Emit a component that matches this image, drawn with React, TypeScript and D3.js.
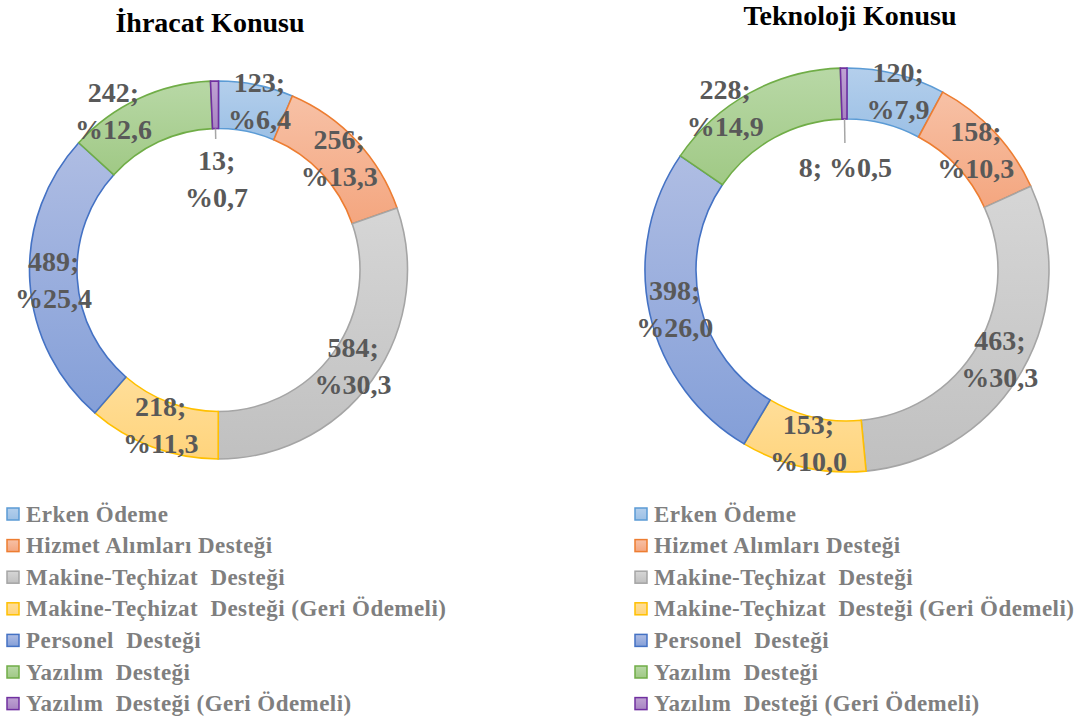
import React from 'react';
import * as d3 from 'd3';

// categories and values
const categories = [
  'Erken Ödeme',
  'Hizmet Alımları Desteği',
  'Makine-Teçhizat  Desteği',
  'Makine-Teçhizat  Desteği (Geri Ödemeli)',
  'Personel  Desteği',
  'Yazılım  Desteği',
  'Yazılım  Desteği (Geri Ödemeli)',
];
const ihracatValues = [123, 256, 584, 218, 489, 242, 13];
const teknolojiValues = [120, 158, 463, 153, 398, 228, 8];

const strokeColors = ['#5b9bd5', '#ed7d31', '#a5a5a5', '#ffc000', '#4472c4', '#70ad47', '#7030a0'];
const fillTop = ['#b4cfec', '#f7c1a6', '#d6d6d6', '#ffde99', '#afbde3', '#b8d8a6', '#bfa3d3'];
const fillBottom = ['#9cc0e5', '#f4a67f', '#c0c0c0', '#ffd47c', '#849fd8', '#a0c985', '#a884c2'];

const labelColor = '#595959';
const legendColor = '#7f7f7f';
const serif = '"Liberation Serif", "DejaVu Serif", serif';

interface ChartConf {
  id: string;
  title: string;
  values: number[];
  cx: number;
  cy: number;
  inner: number;
  outer: number;
  titleX: number;
  titleY: number;
  shifts: Record<number, [number, number]>;
  smallR: number;
  smallOneLine: boolean;
  leaderEnd: number;
  legendX: number;
}

const charts: ChartConf[] = [
  {
    id: 'ihr',
    title: 'İhracat Konusu',
    values: ihracatValues,
    cx: 218.5,
    cy: 270,
    inner: 141.5,
    outer: 189,
    titleX: 210,
    titleY: 32,
    shifts: { 0: [8, -8], 5: [-35, -10] },
    smallR: 92,
    smallOneLine: false,
    leaderEnd: 131,
    legendX: 7,
  },
  {
    id: 'tek',
    title: 'Teknoloji Konusu',
    values: teknolojiValues,
    cx: 847,
    cy: 270,
    inner: 151,
    outer: 202,
    titleX: 850,
    titleY: 25,
    shifts: { 0: [8, -8], 5: [-37, -8] },
    smallR: 103,
    smallOneLine: true,
    leaderEnd: 127,
    legendX: 635,
  },
];

const fmtPct = (v: number, total: number) => '%' + ((v / total) * 100).toFixed(1).replace('.', ',');

const Donut: React.FC<{ c: ChartConf }> = ({ c }) => {
  const total = d3.sum(c.values);
  const pie = d3.pie<number>().sort(null).value((d) => d);
  const arcs = pie(c.values);
  const arc = d3.arc<d3.PieArcDatum<number>>().innerRadius(c.inner).outerRadius(c.outer);
  const midR = (c.inner + c.outer) / 2;
  const smallIdx = c.values.length - 1;

  return (
    <g>
      <defs>
        {strokeColors.map((_, i) => (
          <linearGradient key={i} id={`${c.id}-g${i}`} x1="0" y1="0" x2="0" y2="1">
            <stop offset="0%" stopColor={fillTop[i]} />
            <stop offset="100%" stopColor={fillBottom[i]} />
          </linearGradient>
        ))}
      </defs>
      <text x={c.titleX} y={c.titleY} textAnchor="middle" fontFamily={serif} fontWeight="bold" fontSize={28} fill="#000">
        {c.title}
      </text>
      <g transform={`translate(${c.cx},${c.cy})`}>
        {arcs.map((a, i) => (
          <path key={i} d={arc(a) as string} fill={`url(#${c.id}-g${i})`} stroke={strokeColors[i]} strokeWidth={1.6} />
        ))}
        {arcs.map((a, i) => {
          const mid = (a.startAngle + a.endAngle) / 2;
          const v = c.values[i];
          const pct = fmtPct(v, total);
          if (i === smallIdx) {
            const x = Math.sin(mid) * c.smallR;
            const y = -Math.cos(mid) * c.smallR;
            return (
              <g key={i}>
                <line
                  x1={Math.sin(mid) * c.inner}
                  y1={-Math.cos(mid) * c.inner}
                  x2={Math.sin(mid) * c.leaderEnd}
                  y2={-Math.cos(mid) * c.leaderEnd}
                  stroke="#a6a6a6"
                  strokeWidth={1.5}
                />
                {c.smallOneLine ? (
                  <text x={x} y={y} textAnchor="middle" dominantBaseline="central" fontFamily={serif} fontWeight="bold" fontSize={28} fill={labelColor}>
                    {`${v}; ${pct}`}
                  </text>
                ) : (
                  <text textAnchor="middle" dominantBaseline="central" fontFamily={serif} fontWeight="bold" fontSize={28} fill={labelColor}>
                    <tspan x={x} y={y - 18.5}>{`${v};`}</tspan>
                    <tspan x={x} y={y + 18.5}>{pct}</tspan>
                  </text>
                )}
              </g>
            );
          }
          const sh = c.shifts[i] || [0, 0];
          const x = Math.sin(mid) * midR + sh[0];
          const y = -Math.cos(mid) * midR + sh[1];
          return (
            <text key={i} textAnchor="middle" dominantBaseline="central" fontFamily={serif} fontWeight="bold" fontSize={28} fill={labelColor}>
              <tspan x={x} y={y - 18.5}>{`${v};`}</tspan>
              <tspan x={x} y={y + 18.5}>{pct}</tspan>
            </text>
          );
        })}
      </g>
      <g>
        {categories.map((name, i) => {
          const y = 514 + i * 31.6;
          return (
            <g key={i}>
              <rect x={c.legendX} y={y - 6} width={12} height={12} fill={`url(#${c.id}-g${i})`} stroke={strokeColors[i]} strokeWidth={1.5} />
              <text
                x={c.legendX + 19}
                y={y}
                dominantBaseline="central"
                fontFamily={serif}
                fontWeight="bold"
                fontSize={23}
                letterSpacing={0.45}
                fill={legendColor}
                style={{ whiteSpace: 'pre' }}
              >
                {name}
              </text>
            </g>
          );
        })}
      </g>
    </g>
  );
};

export default function App() {
  return (
    <svg width={1086} height={722} style={{ position: 'absolute', left: 0, top: 0, background: '#fff' }}>
      <rect width={1086} height={722} fill="#fff" />
      {charts.map((c) => (
        <Donut key={c.id} c={c} />
      ))}
    </svg>
  );
}
